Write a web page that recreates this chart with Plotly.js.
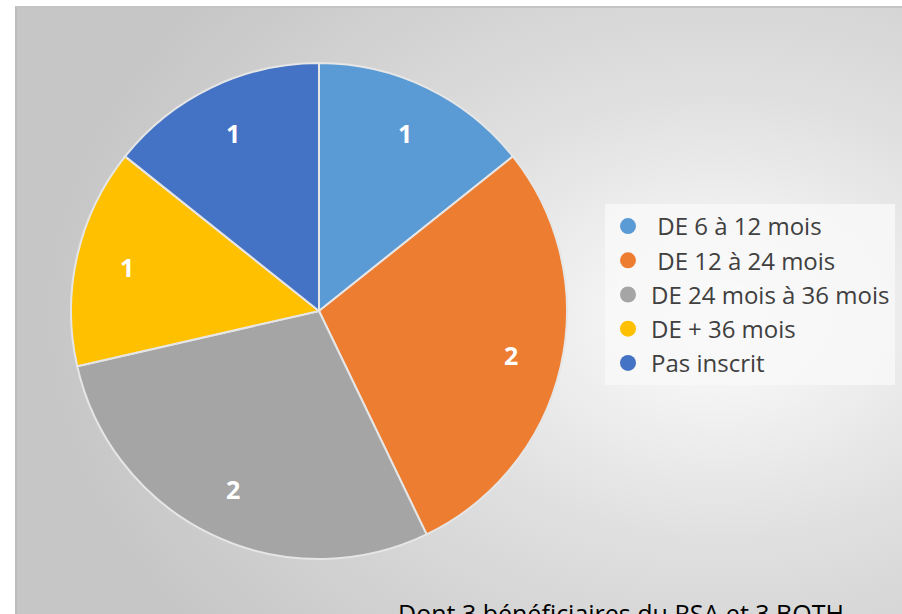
<!DOCTYPE html>
<html><head><meta charset="utf-8">
<script src="https://cdn.plot.ly/plotly-3.0.1.min.js"></script>
<style>
html,body{margin:0;padding:0;width:902px;height:614px;overflow:hidden;background:#fff;}
#wrap{position:absolute;left:15px;top:6px;width:900px;height:620px;
 border-left:2px solid #bdbdbd;border-top:2px solid #c4c4c4;box-sizing:border-box;
 background:radial-gradient(ellipse 75% 80% at 78% 50%, #ffffff 0%, #f3f3f3 16%, #e0e0e0 45%, #d4d4d4 70%, #c6c6c6 100%);}
#chart{position:absolute;left:-2px;top:-2px;width:900px;height:620px;}
</style></head>
<body><div id="wrap"><div id="chart"></div></div>
<script>
const categories = ["DE 6 à 12 mois", "DE 12 à 24 mois", "DE 24 mois à 36 mois", "DE + 36 mois", "Pas inscrit"];
const legendLabels = [" DE 6 à 12 mois", " DE 12 à 24 mois", "DE 24 mois à 36 mois", "DE + 36 mois", "Pas inscrit"];
const values = [1, 2, 2, 1, 1];
const colors = ["#5B9BD5", "#ED7D31", "#A5A5A5", "#FFC000", "#4472C4"];
const note = "Dont 3 bénéficiaires du RSA et 3 BOTH";

const W = 900, H = 620;
const CX = 304, CY = 305, R = 248;   // pie centre / radius in px
const FONT = "'Open Sans', 'Liberation Sans', sans-serif";

const traces = [{
  type: "pie",
  labels: categories,
  values: values,
  sort: false,
  direction: "clockwise",
  rotation: 0,
  marker: {colors: colors, line: {color: "#e6e6e6", width: 2}},
  textinfo: "none",
  hoverinfo: "label+value",
  showlegend: false,
  domain: {x: [(CX - R) / W, (CX + R) / W], y: [1 - (CY + R) / H, 1 - (CY - R) / H]}
}];
categories.forEach((c, i) => {
  traces.push({
    type: "scatter", mode: "markers", x: [null], y: [null],
    name: legendLabels[i],
    marker: {symbol: "circle", size: 20, color: colors[i]},
    showlegend: true, hoverinfo: "skip"
  });
});

// value labels placed at the middle angle of each slice (derived from the data)
const total = values.reduce((a, b) => a + b, 0);
let cum = 0;
const labelAnns = values.map(v => {
  const mid = (cum + v / 2) / total * 2 * Math.PI;
  cum += v;
  const rr = 0.795 * R;
  return {
    text: String(v), xref: "paper", yref: "paper",
    x: (CX + rr * Math.sin(mid)) / W, y: 1 - (CY - rr * Math.cos(mid)) / H,
    xanchor: "center", yanchor: "middle", showarrow: false,
    font: {family: FONT, size: 25, color: "#ffffff", weight: "bold"}
  };
});

const layout = {
  width: W, height: H,
  margin: {l: 0, r: 0, t: 0, b: 0},
  paper_bgcolor: "rgba(0,0,0,0)",
  plot_bgcolor: "rgba(0,0,0,0)",
  xaxis: {visible: false}, yaxis: {visible: false},
  showlegend: true,
  legend: {
    x: 590 / W, y: 1 - 198 / H, xanchor: "left", yanchor: "top",
    bgcolor: "rgba(248,248,248,0.85)",
    font: {family: FONT, size: 24, color: "#404040"},
    itemwidth: 36, tracegroupgap: 0
  },
  annotations: labelAnns.concat([{
    text: note, xref: "paper", yref: "paper",
    x: 381 / W, y: 1 - 588 / H, xanchor: "left", yanchor: "top",
    showarrow: false,
    font: {family: FONT, size: 25, color: "#000000"}
  }])
};
Plotly.newPlot("chart", traces, layout, {displayModeBar: false, staticPlot: true});
</script></body></html>
